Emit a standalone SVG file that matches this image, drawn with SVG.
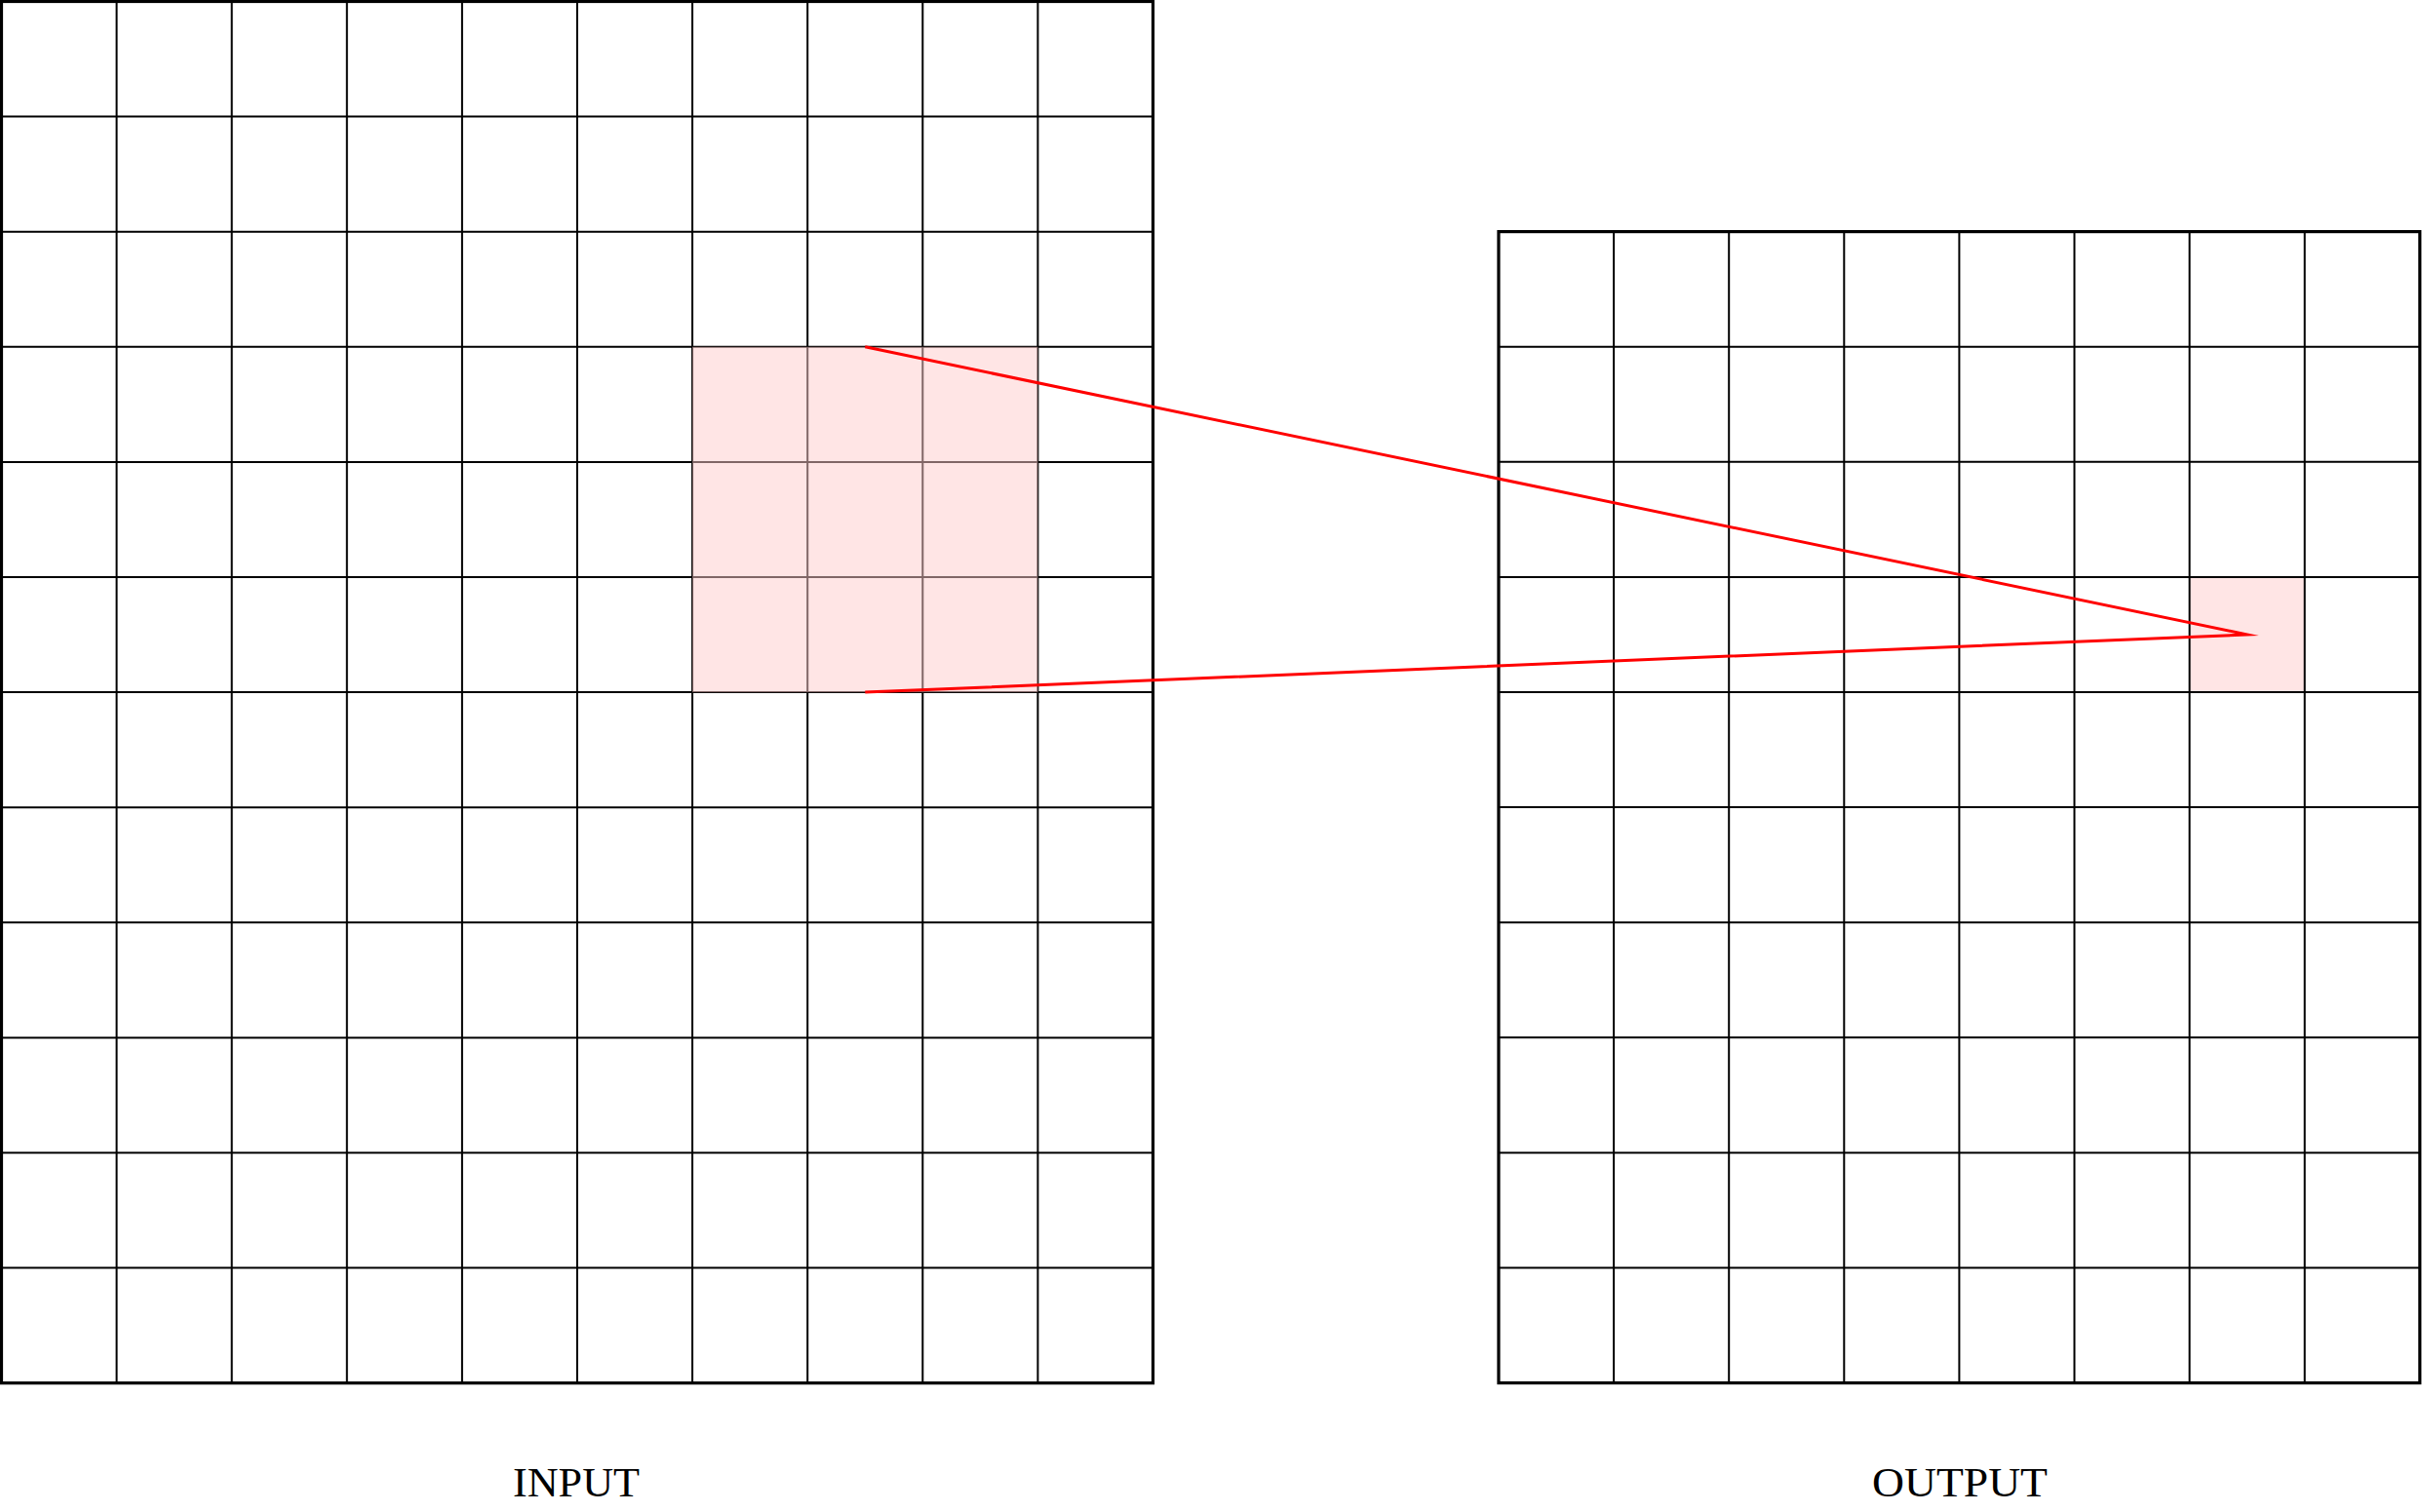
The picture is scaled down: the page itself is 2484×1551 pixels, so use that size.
<svg xmlns="http://www.w3.org/2000/svg" width="2484" height="1551" viewBox="0 0 2484 1551">
<style>
.grid{fill:none;stroke:#000;stroke-width:2}
.border{fill:none;stroke:#000;stroke-width:3.2}
.label{font-family:"Liberation Serif","Times New Roman",serif;font-size:42px;fill:#000;text-anchor:middle}
.conn{fill:none;stroke:#ff0000;stroke-width:3;stroke-linejoin:miter;stroke-miterlimit:10}
</style>
<rect width="2484" height="1551" fill="#fff"/>
<g id="input">
<path class="grid" d="M119.6 1.5V1418.7M237.7 1.5V1418.7M355.8 1.5V1418.7M473.9 1.5V1418.7M592 1.5V1418.7M710.1 1.5V1418.7M828.2 1.5V1418.7M946.3 1.5V1418.7M1064.4 1.5V1418.7M1.5 119.6H1182.5M1.5 237.7H1182.5M1.5 355.8H1182.5M1.5 473.9H1182.5M1.5 592H1182.5M1.5 710.1H1182.5M1.5 828.2H1182.5M1.5 946.3H1182.5M1.5 1064.4H1182.5M1.5 1182.5H1182.5M1.5 1300.6H1182.5"/>
<rect class="border" x="1.5" y="1.5" width="1181" height="1417.2"/>
<rect id="input-window" x="710.1" y="355.8" width="354.3" height="354.3" fill="#ffcccc" fill-opacity="0.5"/>
<text class="label" x="591" y="1535" textLength="130" lengthAdjust="spacingAndGlyphs">INPUT</text>
</g>
<g id="output">
<rect id="output-cell" x="2245.6" y="591.9" width="118.1" height="118.1" fill="#ffe5e5"/>
<path class="grid" d="M1655.1 237.6V1418.6M1773.2 237.6V1418.6M1891.3 237.6V1418.6M2009.4 237.6V1418.6M2127.5 237.6V1418.6M2245.6 237.6V1418.6M2363.7 237.6V1418.6M1537 355.7H2481.8M1537 473.8H2481.8M1537 591.9H2481.8M1537 710H2481.8M1537 828.1H2481.8M1537 946.2H2481.8M1537 1064.3H2481.8M1537 1182.4H2481.8M1537 1300.5H2481.8"/>
<rect class="border" x="1537" y="237.6" width="944.8" height="1181"/>
<text class="label" x="2010" y="1535" textLength="180" lengthAdjust="spacingAndGlyphs">OUTPUT</text>
</g>
<g id="connectors">
<polyline class="conn" points="887.25,355.8 2304.65,650.95 887.25,710.1"/>
</g>
</svg>
